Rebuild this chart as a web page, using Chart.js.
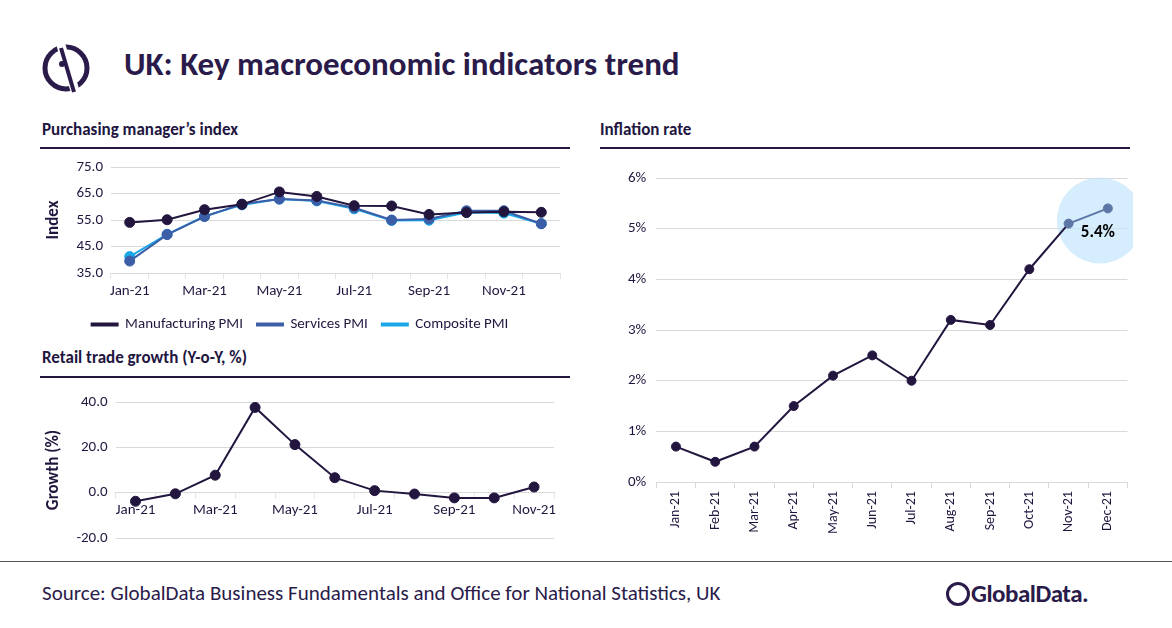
<!DOCTYPE html>
<html>
<head>
<meta charset="utf-8">
<script src="https://cdn.jsdelivr.net/npm/chart.js@4"></script>
<style>
  body { margin: 0; width: 1172px; height: 628px; background: #fff; font-family: Calibri, Carlito, "Open Sans", sans-serif; position: relative; overflow: hidden; color: #22163f; }
  .abs { position: absolute; }
  h1 { position: absolute; left: 124px; top: 44px; margin: 0; font-size: 33px; font-weight: bold; color: #2a1b4a; }
  .hdr { position: absolute; font-size: 17px; font-weight: bold; color: #22163f; }
  .rule { position: absolute; height: 2px; background: #22163f; }
  .src { position: absolute; left: 42px; top: 580px; font-size: 21px; color: #2a1b4a; }
</style>
</head>
<body>
<svg class="abs" style="left:40px;top:38px" width="56" height="58" viewBox="0 0 56 58">
  <circle cx="26" cy="30" r="21" fill="none" stroke="#2a1b4a" stroke-width="5"/>
  <line x1="20" y1="4" x2="36" y2="56" stroke="#fff" stroke-width="9"/>
  <line x1="21" y1="10" x2="34" y2="54" stroke="#2a1b4a" stroke-width="4"/>
  <circle cx="22" cy="26" r="3" fill="#2a1b4a"/>
</svg>
<h1>UK: Key macroeconomic indicators trend</h1>

<div class="hdr" style="left:42px;top:119px">Purchasing manager’s index</div>
<div class="rule" style="left:40px;top:147px;width:530px"></div>
<div class="abs" style="left:40px;top:150px;width:530px;height:192px"><canvas id="pmi"></canvas></div>

<div class="hdr" style="left:42px;top:347px">Retail trade growth (Y-o-Y, %)</div>
<div class="rule" style="left:40px;top:376px;width:530px"></div>
<div class="abs" style="left:40px;top:385px;width:520px;height:170px"><canvas id="retail"></canvas></div>

<div class="hdr" style="left:600px;top:119px">Inflation rate</div>
<div class="rule" style="left:600px;top:147px;width:530px"></div>
<div class="abs" style="left:618px;top:159px;width:515px;height:378px"><canvas id="infl"></canvas></div>

<div class="rule" style="left:0;top:561px;width:1172px;height:1px;background:#555"></div>
<div class="src">Source: GlobalData Business Fundamentals and Office for National Statistics, UK</div>
<div class="abs" style="left:946px;top:578px;font-size:25px;font-weight:bold;color:#2a1b4a;letter-spacing:-0.5px">
  <span style="display:inline-block;width:24px;height:24px;border:3px solid #2a1b4a;border-radius:50%;box-sizing:border-box;vertical-align:-4px;margin-right:1px"></span>GlobalData.</div>

<script>
const months = ['Jan-21','Feb-21','Mar-21','Apr-21','May-21','Jun-21','Jul-21','Aug-21','Sep-21','Oct-21','Nov-21','Dec-21'];
const manufacturingPmi = [54.1, 55.1, 58.9, 60.9, 65.6, 63.9, 60.4, 60.3, 57.1, 57.8, 58.1, 57.9];
const servicesPmi = [39.5, 49.5, 56.3, 61.0, 62.9, 62.4, 59.6, 55.0, 55.4, 58.5, 58.5, 53.6];
const compositePmi = [41.2, 49.6, 56.4, 60.7, 62.9, 62.2, 59.2, 54.8, 54.9, 57.8, 57.6, 53.6];
const retailMonths = months.slice(0, 11);
const retailGrowth = [-3.8, -0.5, 7.7, 37.6, 21.2, 6.6, 0.9, -0.6, -2.3, -2.3, 2.5];
const inflation = [0.7, 0.4, 0.7, 1.5, 2.1, 2.5, 2.0, 3.2, 3.1, 4.2, 5.1, 5.4];

const dark = '#22163f';
const font = { family: 'Calibri, Carlito, "Open Sans", sans-serif', size: 15 };
Chart.defaults.font = font;
Chart.defaults.color = '#22163f';

const everyOther = function (v, i) { return i % 2 === 0 ? this.getLabelForValue(v) : ''; };

new Chart(document.getElementById('pmi'), {
  type: 'line',
  data: {
    labels: months,
    datasets: [
      { label: 'Manufacturing PMI', data: manufacturingPmi, borderColor: dark, backgroundColor: dark },
      { label: 'Services PMI', data: servicesPmi, borderColor: '#3b5ea6', backgroundColor: '#3b5ea6' },
      { label: 'Composite PMI', data: compositePmi, borderColor: '#1aa7e8', backgroundColor: '#1aa7e8' },
    ],
  },
  options: {
    responsive: true, maintainAspectRatio: false, animation: false,
    elements: { point: { radius: 5 }, line: { borderWidth: 2, tension: 0 } },
    layout: { padding: { right: 10 } },
    scales: {
      x: { offset: true, grid: { offset: true, drawOnChartArea: false, tickLength: 6 }, border: { color: '#d9d9d9' },
           ticks: { autoSkip: false, maxRotation: 0, callback: everyOther } },
      y: { min: 35, max: 75, ticks: { stepSize: 10, padding: 8, callback: (v) => v.toFixed(1) }, grid: { color: '#d9d9d9', drawTicks: false }, border: { display: false },
           title: { display: true, text: 'Index', font: { size: 17, weight: 'bold' } } },
    },
    plugins: {
      legend: { position: 'bottom', labels: { boxWidth: 26, boxHeight: 2, padding: 14 } },
      tooltip: { enabled: false },
    },
  },
});

new Chart(document.getElementById('retail'), {
  type: 'line',
  data: { labels: retailMonths, datasets: [{ data: retailGrowth, borderColor: dark, backgroundColor: dark }] },
  options: {
    responsive: true, maintainAspectRatio: false, animation: false,
    elements: { point: { radius: 5 }, line: { borderWidth: 2 } },
    scales: {
      x: { position: { y: 0 }, offset: true, grid: { offset: true, drawOnChartArea: false, tickLength: 6 }, border: { color: '#d9d9d9' },
           ticks: { autoSkip: false, maxRotation: 0, callback: everyOther } },
      y: { min: -20, max: 40, ticks: { stepSize: 20, padding: 8, callback: (v) => v.toFixed(1) }, grid: { color: '#d9d9d9', drawTicks: false }, border: { display: false },
           title: { display: true, text: 'Growth (%)', font: { size: 17, weight: 'bold' } } },
    },
    plugins: { legend: { display: false }, tooltip: { enabled: false } },
  },
});

const lighter = '#5c77a6';
const highlight = {
  id: 'highlight',
  beforeDatasetsDraw(chart) {
    const pt = chart.getDatasetMeta(0).data[11];
    const ctx = chart.ctx;
    ctx.save();
    ctx.fillStyle = 'rgba(190,228,250,0.65)';
    ctx.beginPath();
    ctx.arc(pt.x - 8, pt.y + 12, 43, 0, Math.PI * 2);
    ctx.fill();
    ctx.restore();
  },
  afterDatasetsDraw(chart) {
    const pt = chart.getDatasetMeta(0).data[11];
    const ctx = chart.ctx;
    ctx.save();
    ctx.fillStyle = '#000';
    ctx.font = 'bold 17px Calibri, Carlito, "Open Sans", sans-serif';
    ctx.textAlign = 'center';
    ctx.fillText(inflation[11].toFixed(1) + '%', pt.x - 10, pt.y + 29);
    ctx.restore();
  },
};

new Chart(document.getElementById('infl'), {
  type: 'line',
  data: {
    labels: months,
    datasets: [{
      data: inflation, borderColor: dark, backgroundColor: dark,
      pointBackgroundColor: inflation.map((_, i) => (i >= 10 ? lighter : dark)),
      pointBorderColor: inflation.map((_, i) => (i >= 10 ? lighter : dark)),
      segment: { borderColor: (c) => (c.p0DataIndex >= 10 ? lighter : dark) },
    }],
  },
  options: {
    responsive: true, maintainAspectRatio: false, animation: false,
    elements: { point: { radius: 4.5 }, line: { borderWidth: 2 } },
    layout: { padding: { right: 5 } },
    scales: {
      x: { offset: true, grid: { offset: true, color: '#d9d9d9', drawOnChartArea: false, tickLength: 6 }, border: { color: '#d9d9d9' },
           ticks: { autoSkip: false, maxRotation: 90, minRotation: 90, font: { size: 14 } } },
      y: { min: 0, max: 6, ticks: { stepSize: 1, padding: 10, callback: (v) => v + '%' }, grid: { color: '#d9d9d9', drawTicks: false }, border: { display: false } },
    },
    plugins: { legend: { display: false }, tooltip: { enabled: false } },
  },
  plugins: [highlight],
});
</script>
</body>
</html>
